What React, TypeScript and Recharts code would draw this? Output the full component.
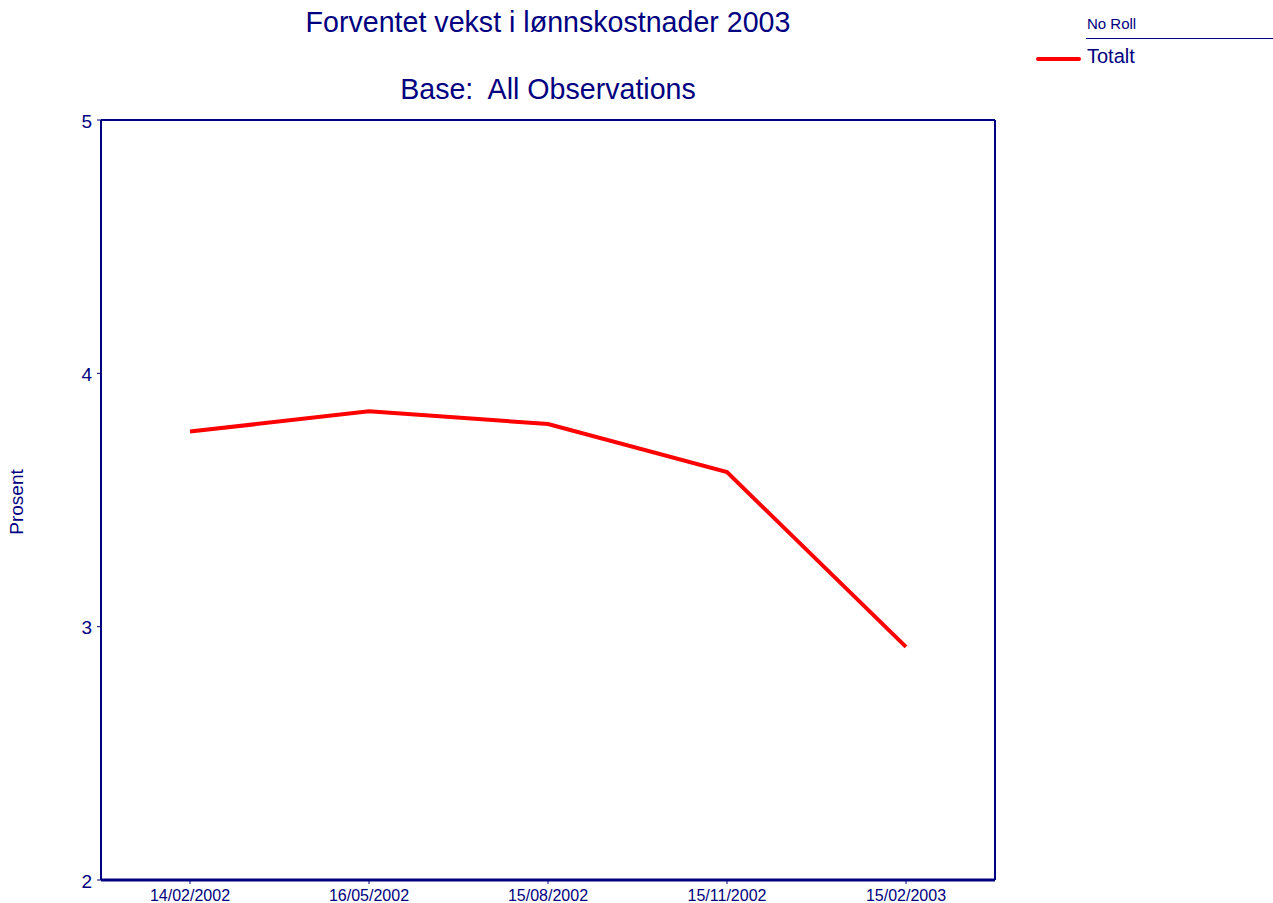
import { LineChart, Line, XAxis, YAxis } from "recharts"

const dates = ["14/02/2002", "16/05/2002", "15/08/2002", "15/11/2002", "15/02/2003"]
const totalt = [3.77, 3.85, 3.8, 3.61, 2.92]
const yTicks = [2, 3, 4, 5]

const data = dates.map((d, i) => ({ date: d, totalt: totalt[i] }))

const navy = "#000080"
const font = "'Liberation Sans', Arial, sans-serif"

export default function App() {
    return (
        <div style={{ position: "absolute", left: 0, top: 0, width: 1273, height: 903, background: "#fff", fontFamily: font }}>
            <div style={{ position: "absolute", left: 0, width: 1096, top: 6, textAlign: "center", fontSize: 28.6, color: navy }}>
                Forventet vekst i lønnskostnader 2003
            </div>
            <div style={{ position: "absolute", left: 0, width: 1096, top: 73, textAlign: "center", fontSize: 28.6, color: navy }}>
                Base:&nbsp; All Observations
            </div>
            <div style={{ position: "absolute", left: 17, top: 502, transform: "translate(-50%, -50%) rotate(-90deg)", fontSize: 19, color: navy, whiteSpace: "nowrap" }}>
                Prosent
            </div>
            {/* legend */}
            <div style={{ position: "absolute", left: 1086, top: 15, width: 187, color: navy }}>
                <div style={{ fontSize: 15, paddingLeft: 1, height: 24, borderBottom: `1.5px solid ${navy}`, boxSizing: "border-box" }}>No Roll</div>
                <div style={{ position: "relative", fontSize: 20, paddingLeft: 1, marginTop: 6, lineHeight: "22px" }}>
                    <div style={{ position: "absolute", left: -50, top: 12, width: 45, height: 4, background: "#ff0000", borderRadius: 2 }} />
                    Totalt
                </div>
            </div>
            <LineChart width={1273} height={903} data={data} margin={{ top: 119, right: 277, bottom: 0, left: 41 }}>
                <XAxis
                    dataKey="date"
                    xAxisId="bottom"
                    height={23}
                    padding={{ left: 89, right: 89 }}
                    axisLine={{ stroke: navy, strokeWidth: 3 }}
                    tickLine={{ stroke: navy }}
                    tickSize={4}
                    tick={{ fill: navy, fontSize: 16, dy: 4 }}
                    interval={0}
                />
                <XAxis dataKey="date" xAxisId="top" orientation="top" height={1} axisLine={{ stroke: navy, strokeWidth: 2 }} tick={false} tickLine={false} />
                <YAxis
                    yAxisId="left"
                    domain={[2, 5]}
                    ticks={yTicks}
                    width={60}
                    axisLine={{ stroke: navy, strokeWidth: 2 }}
                    tickLine={{ stroke: navy }}
                    tickSize={4}
                    tick={{ fill: navy, fontSize: 19, dx: -3, dy: 1 }}
                />
                <YAxis yAxisId="right" orientation="right" domain={[2, 5]} width={1} axisLine={{ stroke: navy, strokeWidth: 2 }} tick={false} tickLine={false} />
                <Line
                    xAxisId="bottom"
                    yAxisId="left"
                    type="linear"
                    dataKey="totalt"
                    name="Totalt"
                    stroke="#ff0000"
                    strokeWidth={4}
                    dot={false}
                    isAnimationActive={false}
                />
            </LineChart>
        </div>
    )
}
